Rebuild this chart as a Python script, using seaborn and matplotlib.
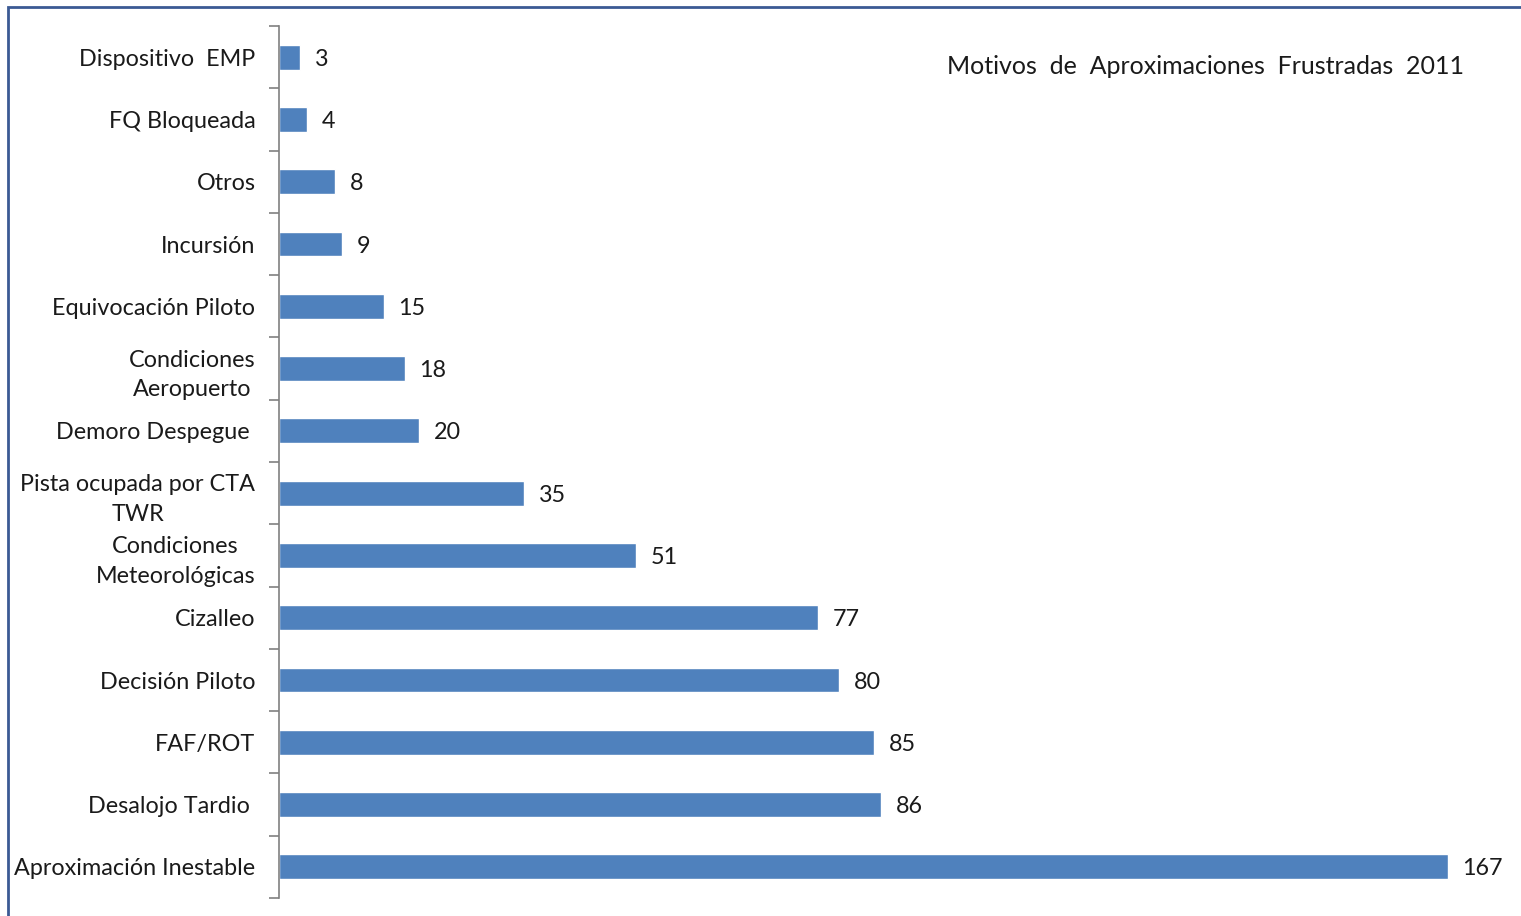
import matplotlib
matplotlib.use("Agg")
import matplotlib.pyplot as plt
import seaborn as sns
import pandas as pd
from matplotlib.patches import Rectangle

categories = ["Dispositivo  EMP", "FQ Bloqueada", "Otros", "Incursión",
              "Equivocación Piloto", "Condiciones\nAeropuerto", "Demoro Despegue ",
              "Pista ocupada por CTA\nTWR", "Condiciones\nMeteorológicas", "Cizalleo",
              "Decisión Piloto", "FAF/ROT", "Desalojo Tardio ", "Aproximación Inestable"]
values = [3, 4, 8, 9, 15, 18, 20, 35, 51, 77, 80, 85, 86, 167]
title = "Motivos  de  Aproximaciones  Frustradas  2011"

sns.set_theme(style="white")
plt.rcParams['font.family'] = ['Lato', 'DejaVu Sans']

df = pd.DataFrame({"cat": categories, "val": values})

fig = plt.figure(figsize=(15.21, 9.16), dpi=100)
ax = fig.add_axes([279/1521, 1-898/916, 1-279/1521, (898-26)/916])
sns.barplot(data=df, y="cat", x="val", orient="h", color="#4F81BD",
            saturation=1, width=0.4, ax=ax)
ax.set_xlim(0, (1521-279)/7.0)
ax.set_ylim(len(categories)-0.5, -0.5)
ax.set_xlabel("")
ax.set_ylabel("")
ax.set_xticks([])

for s in ["top", "right", "bottom"]:
    ax.spines[s].set_visible(False)
ax.spines["left"].set_color("#808080")
ax.spines["left"].set_linewidth(1.2)

ax.set_yticks([i + 0.5 for i in range(-1, len(categories))], minor=True)
ax.tick_params(axis="y", which="minor", length=7, width=1.2, color="#808080", left=True)
ax.tick_params(axis="y", which="major", length=0, pad=17, labelsize=16.8, labelcolor="#1a1a1a")
for lab in ax.get_yticklabels():
    lab.set_multialignment("center")
    lab.set_linespacing(1.5)

for i, v in enumerate(values):
    ax.annotate(str(v), (v, i), xytext=(10.5, -1.5), textcoords="offset points",
                va="center", ha="left", fontsize=16.8, color="#1a1a1a")

fig.text(1464/1521, 1-66/916, title, ha="right", va="center", fontsize=18, color="#1a1a1a")

fig.patches.append(Rectangle((8/1521, -0.1), 1.2, 1-7/916+0.1, transform=fig.transFigure,
                             fill=False, edgecolor="#3B5A94", linewidth=2, zorder=10))

fig.savefig("out.png", dpi=100)
